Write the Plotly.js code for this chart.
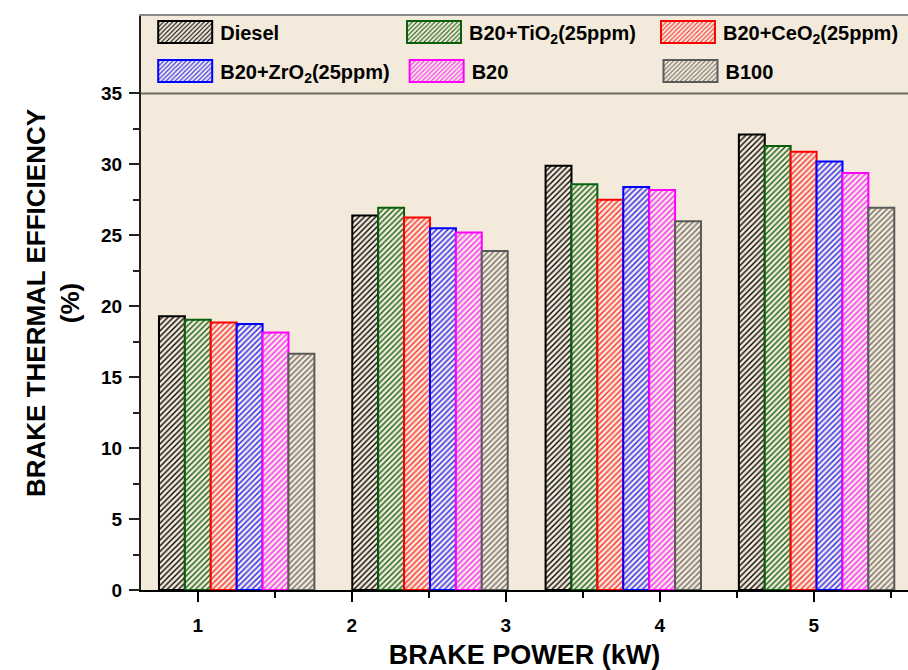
<!DOCTYPE html>
<html><head><meta charset="utf-8">
<script src="https://cdn.plot.ly/plotly-3.0.1.min.js"></script>
<style>html,body{margin:0;padding:0;background:#fff}</style>
</head><body><div id="chart" style="width:908px;height:670px"></div>
<script>
// ---- data ----
const loadSteps = ['L1', 'L2', 'L3', 'L4'];
const tickLabels = [1, 2, 3, 4, 5];
const seriesNames = ['Diesel', 'B20+TiO<sub>2</sub>(25ppm)', 'B20+CeO<sub>2</sub>(25ppm)',
                     'B20+ZrO<sub>2</sub>(25ppm)', 'B20', 'B100'];
const diesel = [19.3, 26.4, 29.9, 32.1];
const tio2   = [19.05, 26.95, 28.6, 31.3];
const ceo2   = [18.85, 26.25, 27.5, 30.9];
const zro2   = [18.75, 25.5, 28.4, 30.2];
const b20    = [18.15, 25.2, 28.2, 29.4];
const b100   = [16.65, 23.9, 26.0, 26.95];
const yTicks = [0, 5, 10, 15, 20, 25, 30, 35];
const yMinorTicks = [2.5, 7.5, 12.5, 17.5, 22.5, 27.5, 32.5];
const xMinorTicks = [1.5, 2.5, 3.5, 4.5, 5.5];

// ---- style ----
const BG = '#f3eadb';
const lineColors = ['#000000', '#0a5f0a', '#ff0000', '#0000ff', '#ff00ff', '#5a5a5a'];
const hatchColors = ['#000000', '#0a5f0a', '#ff2a2a', '#2020ff', '#ff20ff', '#6e6860'];
const legendIds = ['legend', 'legend2', 'legend3', 'legend4', 'legend5', 'legend6'];
const legendX = [0.012, 0.3364, 0.6675, 0.012, 0.3398, 0.6708];
const legendY = [0.9722, 0.9722, 0.9722, 0.904, 0.904, 0.904];
const FONT = 'Liberation Sans, Arial, sans-serif';

const allSeries = [diesel, tio2, ceo2, zro2, b20, b100];
const traces = allSeries.map((vals, i) => ({
  type: 'bar',
  name: seriesNames[i],
  x: loadSteps,
  y: vals,
  xaxis: 'x2',
  yaxis: 'y',
  legend: legendIds[i],
  marker: {
    color: BG,
    line: {color: lineColors[i], width: 2},
    pattern: {shape: '/', fgcolor: hatchColors[i], bgcolor: BG, size: 4, solidity: 0.34, fillmode: 'replace'}
  },
  hoverinfo: 'skip'
}));
// invisible trace to activate the labelled x axis
traces.push({type: 'scatter', x: tickLabels, y: tickLabels.map(() => null), xaxis: 'x', yaxis: 'y',
             showlegend: false, hoverinfo: 'skip', mode: 'markers'});

const layout = {
  width: 908, height: 670,
  margin: {l: 141, r: 0, t: 16, b: 80},
  paper_bgcolor: '#ffffff',
  plot_bgcolor: BG,
  barmode: 'group', bargap: 0.196, bargroupgap: 0,
  showlegend: true,
  xaxis: {
    range: [0.632, 5.612],
    tickmode: 'array', tickvals: tickLabels, ticktext: tickLabels.map(String),
    ticks: 'outside', ticklen: 10, tickwidth: 2, tickcolor: '#000',
    minor: {tickmode: 'array', tickvals: xMinorTicks, ticks: 'outside', ticklen: 6, tickwidth: 2, tickcolor: '#000'},
    showline: true, linecolor: '#000', linewidth: 2,
    showgrid: false, zeroline: false,
    ticklabelstandoff: 7,
    tickfont: {family: FONT, size: 19, weight: 'bold', color: '#000'},
    title: {text: 'BRAKE POWER (kW)', font: {family: FONT, size: 27, weight: 'bold', color: '#000'}, standoff: 11},
    fixedrange: true
  },
  xaxis2: {
    type: 'category', overlaying: 'x', anchor: 'y', side: 'top',
    range: [-0.495, 3.473],
    showline: true, linecolor: '#8a8a8a', linewidth: 2,
    showticklabels: false, ticks: '', showgrid: false, zeroline: false,
    fixedrange: true
  },
  yaxis: {
    range: [0, 40.46],
    tickmode: 'array', tickvals: yTicks, ticktext: yTicks.map(String),
    ticks: 'outside', ticklen: 10, tickwidth: 2, tickcolor: '#222',
    minor: {tickmode: 'array', tickvals: yMinorTicks, ticks: 'outside', ticklen: 6, tickwidth: 2, tickcolor: '#222'},
    showline: true, linecolor: '#222', linewidth: 2,
    showgrid: false, zeroline: false,
    ticklabelstandoff: 3,
    tickfont: {family: FONT, size: 19, weight: 'bold', color: '#000'},
    title: {text: 'BRAKE THERMAL EFFICIENCY<br>(%)', font: {family: FONT, size: 26, weight: 'bold', color: '#000'}, standoff: 14},
    fixedrange: true
  },
  shapes: [{
    type: 'line', xref: 'paper', yref: 'y', x0: 0, x1: 1, y0: 35, y1: 35,
    line: {color: '#6f6a62', width: 2}, layer: 'above'
  }]
};

legendIds.forEach((id, i) => {
  layout[id] = {
    orientation: 'h', xanchor: 'left', yanchor: 'middle',
    x: legendX[i], y: legendY[i],
    bgcolor: 'rgba(0,0,0,0)', borderwidth: 0,
    font: {family: FONT, size: 20, weight: 'bold', color: '#000'},
    itemwidth: 60, itemclick: false, itemdoubleclick: false
  };
});

Plotly.newPlot('chart', traces, layout, {staticPlot: true, displayModeBar: false}).then(gd => {
  // enlarge legend swatches to match the reference's wide hatched boxes
  gd.querySelectorAll('.legendpoints path').forEach(p => {
    p.setAttribute('d', 'M27,11H-27V-11H27Z');
  });
});
</script>
</body></html>
